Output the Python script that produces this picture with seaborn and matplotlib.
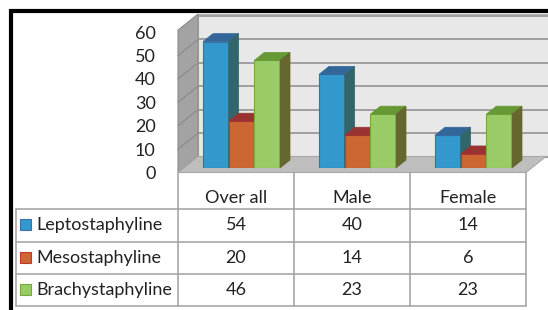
import numpy as np
import pandas as pd
import matplotlib
matplotlib.use("Agg")
import matplotlib.pyplot as plt
from matplotlib.patches import Polygon, Rectangle
from matplotlib.lines import Line2D
from matplotlib.transforms import IdentityTransform, ScaledTranslation
import seaborn as sns

categories = ["Over all", "Male", "Female"]
series = ["Leptostaphyline", "Mesostaphyline", "Brachystaphyline"]
lepto = [54, 40, 14]
meso = [20, 14, 6]
brachy = [46, 23, 23]
yticks = [0, 10, 20, 30, 40, 50, 60]

front_cols = ["#3399CC", "#CC6633", "#99CC66"]
top_cols = ["#336699", "#993333", "#669933"]
side_cols = ["#33666A", "#8B2E2E", "#66662F"]
edge_cols = ["#3A6FB0", "#C0392B", "#77A83A"]

df = pd.DataFrame({
    "cat": categories * 3,
    "series": [s for s in series for _ in categories],
    "val": lepto + meso + brachy,
})

sns.set_theme(style="white")
plt.rcParams["font.family"] = ["Lato", "DejaVu Sans"]

W, H = 548, 310
fig = plt.figure(figsize=(W / 100, H / 100), dpi=100)
fig.patch.set_facecolor("white")

bg = fig.add_axes([0, 0, 1, 1], zorder=0)
bg.set_xlim(0, W)
bg.set_ylim(H, 0)
bg.axis("off")

# main axes: bar front plane
ax = fig.add_axes([183.5 / W, (H - 168) / H, 348 / W, 140.4 / H], zorder=1)
ax.set_facecolor("none")
sns.barplot(data=df, x="cat", y="val", hue="series", order=categories,
            hue_order=series, palette=front_cols, width=0.664,
            saturation=1, ax=ax, legend=False)
ax.set_xlim(-0.5, 2.5)
ax.set_ylim(0, 60)
for s in ax.spines.values():
    s.set_visible(False)
ax.set_xticks([])
ax.set_xlabel("")
ax.set_ylabel("")
ax.set_yticks(yticks)
ax.set_yticklabels([str(t) for t in yticks])
ax.tick_params(axis="y", length=0, pad=20, labelsize=13, labelcolor="#222222")
for lab in ax.get_yticklabels():
    lab.set_transform(lab.get_transform() + ScaledTranslation(0, -4.5 / 100, fig.dpi_scale_trans))

FOFF = (-5.5, 4.5)    # front plane offset (px, down positive)
WOFF = (14.5, -11.5)  # back wall offset
BOFF = (10.0, -8.0)   # bar depth


def px(x, y, off=(0, 0)):
    d = ax.transData.transform((x, y))
    return (d[0] + off[0], H - d[1] + off[1])


# back wall
x0, x1 = -0.5, 2.5
p = [px(x0, 0, WOFF), px(x1, 0, WOFF), px(x1, 60, WOFF), px(x0, 60, WOFF)]
p[1] = (W + 2, p[1][1]); p[2] = (W + 2, p[2][1] - 2)
p[3] = (p[3][0], p[3][1] - 2)
bg.add_patch(Polygon(p, closed=True, facecolor="#E8E8E8", edgecolor="#B0B0B0", lw=0.8, zorder=1))
for t in yticks:
    a = px(x0, t, WOFF)
    bg.add_line(Line2D([a[0], W + 2], [a[1], a[1]], color="#9A9A9A", lw=1.3, zorder=2))

# side wall
sw = [px(x0, 0, FOFF), px(x0, 0, WOFF), px(x0, 60, WOFF), px(x0, 60, FOFF)]
sw[2] = (sw[2][0], sw[2][1] - 2); sw[3] = (sw[3][0], sw[3][1] - 2)
bg.add_patch(Polygon(sw, closed=True, facecolor="#A3A3A3", edgecolor="#8A8A8A", lw=0.8, zorder=1))
for t in yticks[1:-1]:
    a = px(x0, t, FOFF); b = px(x0, t, WOFF)
    bg.add_line(Line2D([a[0], b[0]], [a[1], b[1]], color="#8C8C8C", lw=0.9, zorder=2))

# floor
fl = [px(x0, 0, FOFF), px(x1, 0, FOFF), px(x1, 0, WOFF), px(x0, 0, WOFF)]
bg.add_patch(Polygon(fl, closed=True, facecolor="#BEBEBE", edgecolor="#A8A8A8", lw=0.8, zorder=2))

# 3D faces of bars
for h in range(3):
    for patch in ax.containers[h].patches:
        bx, by = patch.get_x(), patch.get_y()
        bw, bh = patch.get_width(), patch.get_height()
        patch.set_zorder(3 + 2 * h)
        patch.set_edgecolor(edge_cols[h])
        patch.set_linewidth(0.8)
        d = ax.transData
        fl_ = d.transform((bx, by + bh)); fr_ = d.transform((bx + bw, by + bh))
        br_ = d.transform((bx + bw, by))
        ox, oy = BOFF[0], -BOFF[1]
        top = [fl_, fr_, (fr_[0] + ox, fr_[1] + oy), (fl_[0] + ox, fl_[1] + oy)]
        side = [br_, fr_, (fr_[0] + ox, fr_[1] + oy), (br_[0] + ox, br_[1] + oy)]
        ax.add_patch(Polygon(top, closed=True, transform=IdentityTransform(),
                             facecolor=top_cols[h], edgecolor=top_cols[h], lw=0.5,
                             zorder=3 + 2 * h, clip_on=False))
        ax.add_patch(Polygon(side, closed=True, transform=IdentityTransform(),
                             facecolor=side_cols[h], edgecolor=side_cols[h], lw=0.5,
                             zorder=3 + 2 * h, clip_on=False))

# data table
tc = "#A0A0A0"
colx = [px(x, 0, FOFF)[0] for x in [-0.5, 0.5, 1.5, 2.5]]
ytop = px(0, 0, FOFF)[1]
rows_y = [209, 241.5, 274, 305.5]
left_x = 15.5
for cx in colx:
    bg.add_line(Line2D([cx, cx], [ytop, rows_y[-1]], color=tc, lw=1.1, zorder=3))
bg.add_line(Line2D([left_x, left_x], [rows_y[0], rows_y[-1]], color=tc, lw=1.1, zorder=3))
for ry in rows_y:
    bg.add_line(Line2D([left_x, colx[-1]], [ry, ry], color=tc, lw=1.1, zorder=3))

fs = 13
txtc = "#222222"
for i, c in enumerate(categories):
    cx = (colx[i] + colx[i + 1]) / 2
    bg.text(cx, (ytop + rows_y[0]) / 2 + 7, c, ha="center", va="center", fontsize=fs, color=txtc)
values = [lepto, meso, brachy]
for r, name in enumerate(series):
    cy = (rows_y[r] + rows_y[r + 1]) / 2
    bg.add_patch(Rectangle((19.5, cy - 6), 11, 11, facecolor=front_cols[r],
                           edgecolor=edge_cols[r], lw=0.8, zorder=4))
    bg.text(36, cy, name, ha="left", va="center", fontsize=fs, color=txtc)
    for i in range(3):
        cx = (colx[i] + colx[i + 1]) / 2
        bg.text(cx, cy, str(values[r][i]), ha="center", va="center", fontsize=fs, color=txtc)

# black frame on left and top
bg.add_line(Line2D([11, 11], [9, H + 2], color="black", lw=3.0, zorder=5, solid_capstyle="butt"))
bg.add_line(Line2D([9, W + 2], [11, 11], color="black", lw=3.0, zorder=5, solid_capstyle="butt"))

fig.savefig("out.png", dpi=100, facecolor="white")
